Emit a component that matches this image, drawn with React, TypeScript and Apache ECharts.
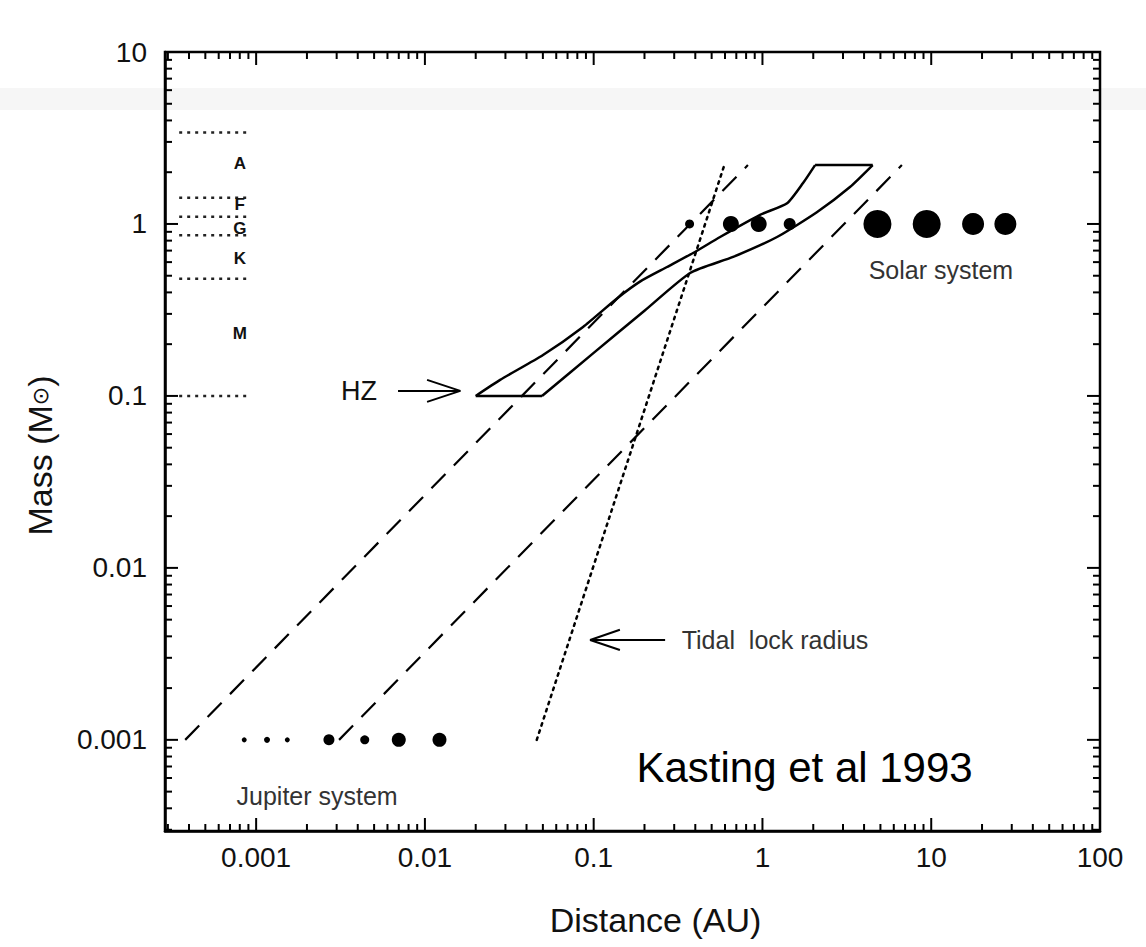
import React, { useEffect, useRef } from 'react';
import * as echarts from 'echarts';

// ---- axis ranges & ticks ----
const X_MIN = Math.pow(10, -3.54);
const X_MAX = 100;
const Y_MIN = Math.pow(10, -3.53);
const Y_MAX = 10;

const xTickValues = [0.001, 0.01, 0.1, 1, 10, 100];
const xTickLabels = ['0.001', '0.01', '0.1', '1', '10', '100'];
const yTickValues = [0.001, 0.01, 0.1, 1, 10];
const yTickLabels = ['0.001', '0.01', '0.1', '1', '10'];
const minorMultipliers = [2, 3, 4, 5, 6, 7, 8, 9];
const decades = [0.0001, 0.001, 0.01, 0.1, 1, 10];

// ---- spectral classes ----
const classBoundaries = [3.4, 1.42, 1.1, 0.86, 0.48, 0.1];
const classLineX = [0.00035, 0.00093];
const classLetters = ['A', 'F', 'G', 'K', 'M'];
const classLetterMass = [2.26, 1.29, 0.935, 0.63, 0.232];
const classLetterX = 0.0008;

// ---- habitable zone ----
const hzInner = [
  [0.02, 0.1], [0.0279, 0.124], [0.0501, 0.173], [0.0865, 0.252], [0.138, 0.37],
  [0.19, 0.465], [0.272, 0.562], [0.388, 0.678], [0.561, 0.84], [0.968, 1.13],
  [1.40, 1.32], [1.74, 1.73], [2.05, 2.2],
];
const hzTop = [[2.05, 2.2], [4.5, 2.2]];
const hzOuter = [
  [4.5, 2.2], [3.3, 1.64], [2.1, 1.17], [1.22, 0.84], [0.67, 0.643], [0.373, 0.519],
  [0.2, 0.313], [0.1, 0.178], [0.0494, 0.1],
];
const hzBottom = [[0.0494, 0.1], [0.02, 0.1]];

// ---- dashed HZ extrapolations & tidal lock ----
const dashedInner = [[0.00038, 0.001], [0.82, 2.2]];
const dashedOuter = [[0.0031, 0.001], [6.7, 2.2]];
const tidalLock = [[0.046, 0.001], [0.59, 2.15]];

// ---- planets & moons ----
const solarDist = [0.37, 0.65, 0.95, 1.45, 4.8, 9.4, 17.7, 27.5];
const solarSize = [9, 16, 16, 12, 28, 28, 22, 22];
const jupiterDist = [0.00085, 0.00116, 0.00153, 0.0027, 0.0044, 0.007, 0.0122];
const jupiterSize = [5, 6, 5, 11, 9, 14, 14];

// ---- annotation arrows ----
const hzArrowShaft = [[0.00693, 0.107], [0.0162, 0.107]];
const hzArrowHead = [[0.0103, 0.124], [0.0162, 0.107], [0.0103, 0.0923]];
const tidalArrowShaft = [[0.0953, 0.00381], [0.265, 0.00381]];
const tidalArrowHead = [[0.143, 0.00437], [0.0953, 0.00381], [0.143, 0.00333]];

const FONT = 'Liberation Sans, Arial, sans-serif';

function isDecade(v: number) {
  const l = Math.log10(v);
  return Math.abs(l - Math.round(l)) < 1e-6;
}

export default function App() {
  const ref = useRef<HTMLDivElement>(null);
  useEffect(() => {
    if (!ref.current) return;
    const chart = echarts.init(ref.current, undefined, { renderer: 'svg' });

    const xTickData: number[][] = [];
    const yTickData: number[][] = [];
    decades.forEach((d) => {
      if (d >= X_MIN && d <= X_MAX) xTickData.push([d, Y_MIN, 1]);
      if (d >= Y_MIN && d <= Y_MAX) yTickData.push([X_MIN, d, 1]);
      minorMultipliers.forEach((m) => {
        const v = d * m;
        if (v > X_MIN && v < X_MAX) xTickData.push([v, Y_MIN, 0]);
        if (v > Y_MIN && v < Y_MAX) yTickData.push([X_MIN, v, 0]);
      });
    });

    const labelFmt = (vals: number[], labs: string[]) => (v: number) => {
      if (!isDecade(v)) return '';
      const i = vals.findIndex((t) => Math.abs(Math.log10(t) - Math.log10(v)) < 1e-6);
      return i >= 0 ? labs[i] : '';
    };

    const lineSeries = (data: number[][], lineStyle: any, z = 3, smooth: any = false) => ({
      type: 'line',
      data,
      symbol: 'none',
      silent: true,
      smooth,
      z,
      lineStyle: { color: '#000', width: 2, ...lineStyle },
    });

    const textPoint = (x: number, y: number, text: string, label: any) => ({
      value: [x, y],
      label: { show: true, formatter: text, ...label },
    });

    const series: any[] = [];

    classBoundaries.forEach((m) => {
      series.push(lineSeries([[classLineX[0], m], [classLineX[1], m]], { type: [3, 5], width: 2.5, color: '#222' }));
    });

    series.push(lineSeries(hzInner, { width: 2.5 }, 4, 0.2));
    series.push(lineSeries(hzTop, { width: 2.5 }, 4));
    series.push(lineSeries(hzOuter, { width: 2.5 }, 4, 0.2));
    series.push(lineSeries(hzBottom, { width: 2.5 }, 4));
    series.push(lineSeries(dashedInner, { type: [20, 12], width: 2.2 }));
    series.push(lineSeries(dashedOuter, { type: [20, 12], width: 2.2 }));
    series.push(lineSeries(tidalLock, { type: [2.5, 5], width: 2.5, cap: 'round' }));
    series.push(lineSeries(hzArrowShaft, { width: 2 }));
    series.push(lineSeries(hzArrowHead, { width: 2 }));
    series.push(lineSeries(tidalArrowShaft, { width: 2 }));
    series.push(lineSeries(tidalArrowHead, { width: 2 }));

    series.push({
      type: 'scatter',
      silent: true,
      z: 5,
      itemStyle: { color: '#000', opacity: 1 },
      data: solarDist.map((d, i) => ({ value: [d, 1], symbolSize: solarSize[i] })),
    });
    series.push({
      type: 'scatter',
      silent: true,
      z: 5,
      itemStyle: { color: '#000', opacity: 1 },
      data: jupiterDist.map((d, i) => ({ value: [d, 0.001], symbolSize: jupiterSize[i] })),
    });

    const textData: any[] = [];
    classLetters.forEach((c, i) => {
      textData.push(textPoint(classLetterX, classLetterMass[i], c, {
        position: 'inside', fontSize: 17, fontWeight: 'bold', color: '#111', fontFamily: FONT,
      }));
    });
    textData.push(textPoint(0.00407, 0.107, 'HZ', { position: 'inside', fontSize: 27, color: '#111', fontFamily: FONT }));
    textData.push(textPoint(0.33, 0.0038, 'Tidal  lock radius', { position: 'right', distance: 0, fontSize: 25, color: '#333', fontFamily: FONT }));
    textData.push(textPoint(4.23, 0.541, 'Solar system', { position: 'right', distance: 0, fontSize: 25, color: '#333', fontFamily: FONT }));
    textData.push(textPoint(0.00076, 0.000472, 'Jupiter system', { position: 'right', distance: 0, fontSize: 25, color: '#333', fontFamily: FONT }));
    textData.push(textPoint(0.178, 0.000687, 'Kasting et al 1993', { position: 'right', distance: 0, fontSize: 42, color: '#000', fontFamily: FONT }));
    series.push({
      type: 'scatter',
      silent: true,
      z: 6,
      symbolSize: 1,
      itemStyle: { color: 'rgba(0,0,0,0)', opacity: 1 },
      data: textData,
    });

    series.push({
      type: 'custom',
      silent: true,
      z: 7,
      encode: { x: 0, y: 1 },
      data: xTickData,
      renderItem: (params: any, api: any) => {
        const v = api.value(0);
        const len = api.value(2) === 1 ? 13 : 7;
        const b = api.coord([v, Y_MIN]);
        const t = api.coord([v, Y_MAX]);
        return {
          type: 'group',
          children: [
            { type: 'line', shape: { x1: b[0], y1: b[1], x2: b[0], y2: b[1] - len }, style: { stroke: '#000', lineWidth: 2 } },
            { type: 'line', shape: { x1: t[0], y1: t[1], x2: t[0], y2: t[1] + len }, style: { stroke: '#000', lineWidth: 2 } },
          ],
        };
      },
    });
    series.push({
      type: 'custom',
      silent: true,
      z: 7,
      encode: { x: 0, y: 1 },
      data: yTickData,
      renderItem: (params: any, api: any) => {
        const v = api.value(1);
        const len = api.value(2) === 1 ? 13 : 7;
        const l = api.coord([X_MIN, v]);
        const r = api.coord([X_MAX, v]);
        return {
          type: 'group',
          children: [
            { type: 'line', shape: { x1: l[0], y1: l[1], x2: l[0] + len, y2: l[1] }, style: { stroke: '#000', lineWidth: 2 } },
            { type: 'line', shape: { x1: r[0], y1: r[1], x2: r[0] - len, y2: r[1] }, style: { stroke: '#000', lineWidth: 2 } },
          ],
        };
      },
    });

    chart.setOption({
      animation: false,
      backgroundColor: '#fff',
      graphic: [
        {
          type: 'rect',
          z: -10,
          silent: true,
          shape: { x: 0, y: 88, width: 1146, height: 22 },
          style: { fill: 'rgba(0,0,0,0.035)' },
        },
      ],
      grid: {
        left: 165, right: 46, top: 52, bottom: 116,
        show: true, borderColor: '#000', borderWidth: 2.5, backgroundColor: 'transparent',
      },
      xAxis: {
        type: 'log',
        logBase: 10,
        min: X_MIN,
        max: X_MAX,
        axisLine: { show: true, lineStyle: { color: '#000', width: 2.5 } },
        axisTick: { show: false },
        splitLine: { show: false },
        axisLabel: {
          formatter: labelFmt(xTickValues, xTickLabels),
          fontSize: 28, color: '#111', margin: 12, fontFamily: FONT,
        },
        name: 'Distance (AU)',
        nameLocation: 'middle',
        nameGap: 72,
        nameTextStyle: { fontSize: 34, color: '#111', fontFamily: FONT, padding: [0, 0, 0, 46] },
      },
      yAxis: {
        type: 'log',
        logBase: 10,
        min: Y_MIN,
        max: Y_MAX,
        axisLine: { show: true, lineStyle: { color: '#000', width: 2.5 } },
        axisTick: { show: false },
        splitLine: { show: false },
        axisLabel: {
          formatter: labelFmt(yTickValues, yTickLabels),
          fontSize: 28, color: '#111', margin: 18, fontFamily: FONT,
        },
        name: 'Mass (M{s|⊙})',
        nameLocation: 'middle',
        nameGap: 108,
        nameRotate: 90,
        nameTextStyle: {
          fontSize: 34, color: '#111', fontFamily: FONT, padding: [0, 28, 0, 0],
          rich: { s: { fontSize: 22, color: '#111', fontFamily: 'DejaVu Sans' } },
        },
      },
      series,
    });

    return () => chart.dispose();
  }, []);

  return (
    <div
      ref={ref}
      style={{ position: 'fixed', left: 0, top: 0, width: 1146, height: 947, background: '#fff' }}
    />
  );
}
